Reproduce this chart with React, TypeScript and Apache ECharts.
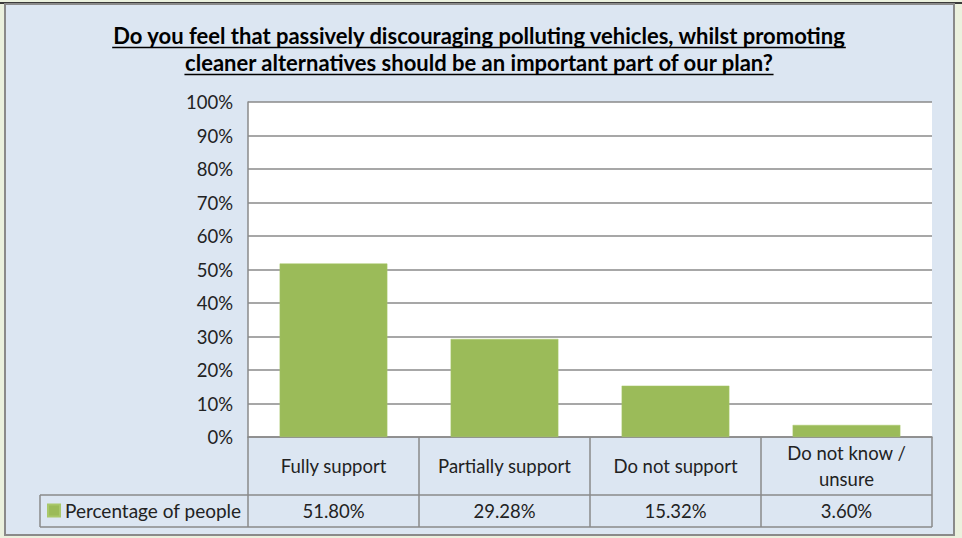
import React, { useEffect, useRef } from 'react';
import * as echarts from 'echarts';

const categories = ['Fully support', 'Partially support', 'Do not support', 'Do not know /\nunsure'];
const values = [51.8, 29.28, 15.32, 3.6];
const seriesName = 'Percentage of people';
const titleLines = [
  'Do you feel that passively discouraging polluting vehicles, whilst promoting',
  'cleaner alternatives should be an important part of our plan?',
];
const yMin = 0;
const yMax = 100;
const yInterval = 10;

const FONT = 'Lato, "Noto Sans", sans-serif';
const W = 962;
const H = 538;
const PLOT_L = 248;
const PLOT_R = 932;
const PLOT_T = 102;
const PLOT_B = 437;
const ROW1_B = 495;
const ROW2_B = 527;
const LEG_L = 40;
const GRAY = '#8a8a8a';
const LABEL_SIZE = 18.5;

function measure(text: string, font: string): number {
  const c = document.createElement('canvas');
  const ctx = c.getContext('2d');
  if (!ctx) return text.length * 9;
  ctx.font = font;
  return ctx.measureText(text).width;
}

export default function App() {
  const ref = useRef<HTMLDivElement>(null);
  useEffect(() => {
    document.body.style.margin = '0';
    if (!ref.current) return;
    const chart = echarts.init(ref.current, undefined, { renderer: 'svg' });
    const titleSize = 22;
    const titleFont = `bold ${titleSize}px Lato`;
    const titleY = [35, 62];
    const graphics: any[] = [
      { type: 'rect', z: -10, silent: true, shape: { x: 0, y: 0, width: W, height: H }, style: { fill: '#ebf1de' } },
      { type: 'rect', z: -9, silent: true, shape: { x: 0, y: 2, width: W, height: 2 }, style: { fill: '#3a3a3a' } },
      { type: 'rect', z: -8, silent: true, shape: { x: 5, y: 4, width: 949, height: 531 }, style: { fill: '#dce6f2', stroke: GRAY, lineWidth: 2 } },
      { type: 'line', silent: true, shape: { x1: LEG_L, y1: ROW1_B, x2: PLOT_R, y2: ROW1_B }, style: { stroke: GRAY, lineWidth: 1.5 } },
      { type: 'line', silent: true, shape: { x1: LEG_L, y1: ROW2_B, x2: PLOT_R, y2: ROW2_B }, style: { stroke: GRAY, lineWidth: 1.5 } },
      { type: 'line', silent: true, shape: { x1: LEG_L, y1: ROW1_B, x2: LEG_L, y2: ROW2_B }, style: { stroke: GRAY, lineWidth: 1.5 } },
    ];
    titleLines.forEach((t, i) => {
      const w = measure(t, titleFont);
      graphics.push({
        type: 'text',
        silent: true,
        style: {
          text: t,
          x: W / 2 - 2,
          y: titleY[i],
          align: 'center',
          verticalAlign: 'middle',
          font: titleFont,
          fill: '#000',
        },
      });
      graphics.push({
        type: 'line',
        silent: true,
        shape: { x1: W / 2 - 2 - w / 2, y1: titleY[i] + 12.5, x2: W / 2 - 2 + w / 2, y2: titleY[i] + 12.5 },
        style: { stroke: '#000', lineWidth: 1.5 },
      });
    });

    chart.setOption({
      animation: false,
      textStyle: { fontFamily: FONT },
      graphic: graphics,
      grid: { left: PLOT_L, right: W - PLOT_R, top: PLOT_T, bottom: H - PLOT_B, show: true, backgroundColor: '#fff', borderWidth: 0 },
      legend: {
        left: 47,
        top: 501,
        padding: 0,
        icon: 'rect',
        itemWidth: 12,
        itemHeight: 12,
        textStyle: { fontSize: 19, color: '#222', fontFamily: FONT },
        data: [seriesName],
      },
      xAxis: [
        {
          type: 'category',
          data: categories,
          position: 'bottom',
          offset: 0,
          axisLine: { show: true, lineStyle: { color: GRAY, width: 1.5 } },
          axisTick: { show: true, length: ROW2_B - PLOT_B, lineStyle: { color: GRAY, width: 1.5 } },
          axisLabel: {
            interval: 0,
            margin: (ROW1_B - PLOT_B) / 2,
            verticalAlign: 'middle',
            fontSize: LABEL_SIZE,
            lineHeight: 26,
            color: '#222',
            fontFamily: FONT,
          },
        },
        {
          type: 'category',
          data: categories,
          position: 'bottom',
          offset: 0,
          axisLine: { show: false },
          axisTick: { show: false },
          axisLabel: {
            interval: 0,
            margin: (ROW1_B + ROW2_B) / 2 - PLOT_B,
            verticalAlign: 'middle',
            fontSize: LABEL_SIZE,
            color: '#222',
            fontFamily: FONT,
            formatter: (_v: string, i: number) => values[i].toFixed(2) + '%',
          },
        },
      ],
      yAxis: {
        type: 'value',
        min: yMin,
        max: yMax,
        interval: yInterval,
        axisLine: { show: true, lineStyle: { color: GRAY, width: 1.5 } },
        axisTick: { show: false },
        splitLine: { show: true, lineStyle: { color: GRAY, width: 1.5 } },
        axisLabel: { formatter: '{value}%', margin: 15, fontSize: LABEL_SIZE, color: '#222', fontFamily: FONT },
      },
      series: [
        {
          name: seriesName,
          type: 'bar',
          xAxisIndex: 0,
          data: values,
          barWidth: '63%',
          itemStyle: { color: '#9bbb59', borderColor: '#a9c86a', borderWidth: 0.5 },
        },
      ],
    });
    return () => chart.dispose();
  }, []);
  return <div ref={ref} style={{ width: W, height: H }} />;
}
